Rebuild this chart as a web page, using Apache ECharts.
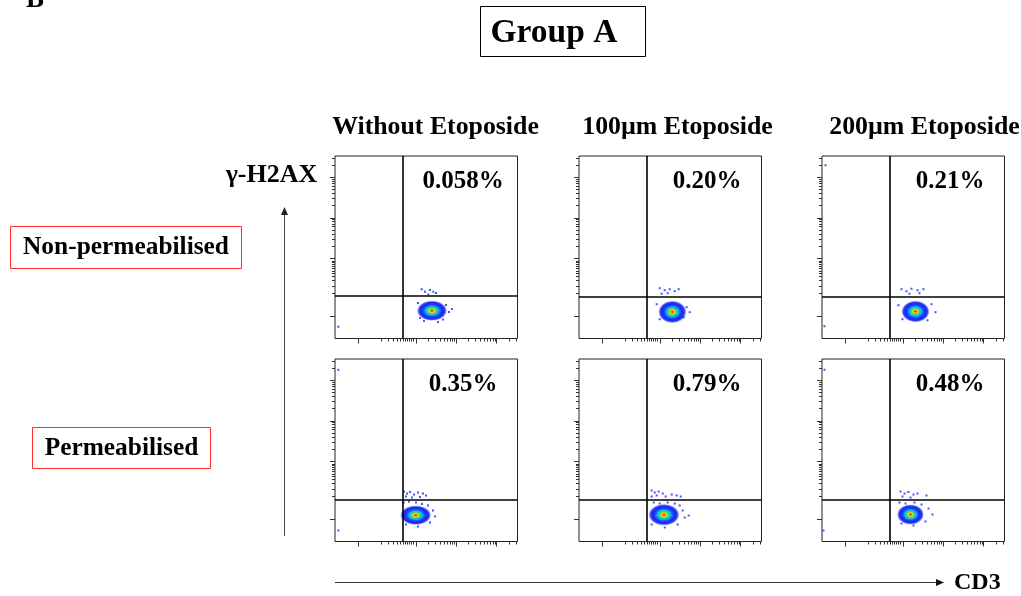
<!DOCTYPE html>
<html><head><meta charset="utf-8">
<script src="https://cdn.jsdelivr.net/npm/echarts@6/dist/echarts.min.js"></script>
<style>html,body{margin:0;padding:0;background:#fff}#c{width:1021px;height:596px}</style>
</head><body><div id="c"></div>
<script>
// ---------------- DATA ----------------
const columnTitles = ['Without Etoposide', '100\u00b5m Etoposide', '200\u00b5m Etoposide'];
const rowTitles = ['Non-permeabilised', 'Permeabilised'];
const percentLabels = ['0.058%', '0.20%', '0.21%', '0.35%', '0.79%', '0.48%'];
// axis display units: 0 at zero, one unit per decade (10^3 at 1.43)
const axisRange = [-0.56, 3.95];
const majorTicks = [0, 1.43, 2.43, 3.43];
const lowMinorTicks = [0.57, 0.74, 0.88, 0.98, 1.05, 1.11, 1.17, 1.22, 1.27, 1.32, 1.36];
const decadeStarts = [1.43, 2.43, 3.43];
// quadrant gates per panel
const gateX = [1.12, 1.12, 1.108, 1.12, 1.12, 1.108];
const gateY = [0.49, 0.478, 0.478, 0.47, 0.47, 0.47];
// main population (centre and spread, display units)
const blobX = [1.837, 1.748, 1.750, 1.434, 1.540, 1.627];
const blobY = [0.127, 0.097, 0.107, 0.090, 0.100, 0.107];
const blobSpreadX = [0.37, 0.345, 0.345, 0.38, 0.38, 0.33];
const blobSpreadY = [0.25, 0.275, 0.265, 0.24, 0.265, 0.25];
// sparse events per panel
const sparse1 = [[1.582,0.656],[1.664,0.596],[1.787,0.638],[1.869,0.596],[1.745,0.527],[1.936,0.564],[1.491,0.317],[2.183,0.268],[2.257,0.095],[1.540,-0.053],[2.109,-0.091],[1.985,-0.152],[1.639,-0.128],[2.331,0.169],[-0.478,-0.268]];
const sparse2 = [[1.434,0.683],[1.558,0.633],[1.681,0.658],[1.805,0.609],[1.632,0.559],[1.904,0.658],[1.483,0.547],[1.360,0.288],[2.101,0.213],[2.027,-0.034],[1.434,-0.083],[2.175,0.090]];
const sparse3 = [[1.404,0.658],[1.528,0.609],[1.652,0.671],[1.800,0.633],[1.948,0.658],[1.602,0.547],[1.849,0.559],[1.330,0.263],[2.146,0.288],[2.245,0.090],[1.429,-0.083],[2.047,-0.108],[-0.474,3.722],[-0.498,-0.256]];
const sparse4 = [[1.145,0.675],[1.219,0.626],[1.293,0.663],[1.392,0.601],[1.491,0.651],[1.614,0.626],[1.194,0.552],[1.343,0.527],[1.540,0.540],[1.689,0.577],[1.133,0.404],[1.269,0.428],[1.441,0.404],[1.590,0.367],[1.738,0.330],[1.862,0.206],[1.911,0.058],[1.787,-0.091],[1.194,-0.140],[1.491,-0.189],[-0.478,3.683],[-0.478,-0.288]];
const sparse5 = [[1.236,0.700],[1.311,0.651],[1.409,0.675],[1.508,0.626],[1.360,0.577],[1.236,0.552],[1.582,0.552],[1.731,0.601],[1.854,0.577],[1.953,0.552],[1.286,0.404],[1.434,0.379],[1.632,0.404],[1.805,0.379],[1.928,0.330],[2.002,0.206],[2.052,0.033],[1.879,-0.140],[1.236,-0.140],[1.558,-0.214],[2.151,0.082]];
const sparse6 = [[1.380,0.675],[1.479,0.626],[1.577,0.663],[1.701,0.601],[1.800,0.626],[1.429,0.552],[1.627,0.527],[2.022,0.577],[1.355,0.404],[1.503,0.379],[1.726,0.404],[1.899,0.354],[2.072,0.255],[2.170,0.107],[1.997,-0.066],[1.404,-0.115],[1.701,-0.165],[-0.498,3.683],[-0.523,-0.288]];
const sparseAll = [sparse1, sparse2, sparse3, sparse4, sparse5, sparse6];

// ---------------- LAYOUT / STYLE ----------------
const SERIF = "'Times New Roman','Liberation Serif',serif";
const gridLefts = [335, 579, 822];
const gridTops = [156, 359];
const GW = 182.5, GH = 182.5;

const minorTicks = lowMinorTicks.slice();
decadeStarts.forEach(d => { for (let k = 2; k <= 9; k++) { const v = d + Math.log10(k); if (v < axisRange[1]) minorTicks.push(v); } });
const tickList = majorTicks.map(v => [v, 1]).concat(minorTicks.map(v => [v, 0]));

const blobGradient = new echarts.graphic.RadialGradient(0.5, 0.5, 0.5, [
  { offset: 0, color: '#e8101a' },
  { offset: 0.08, color: '#ff5a10' },
  { offset: 0.17, color: '#f0e020' },
  { offset: 0.28, color: '#40dc50' },
  { offset: 0.4, color: '#10c8ec' },
  { offset: 0.52, color: '#1a6cff' },
  { offset: 0.7, color: '#1428f0' },
  { offset: 0.86, color: 'rgba(24,36,240,0.9)' },
  { offset: 1, color: 'rgba(40,60,255,0.12)' }
]);

const grids = [], xAxes = [], yAxes = [], series = [], graphics = [];
for (let p = 0; p < 6; p++) {
  const r = Math.floor(p / 3), c = p % 3;
  grids.push({ left: gridLefts[c], top: gridTops[r], width: GW, height: GH, show: true, borderColor: '#222', borderWidth: 1, backgroundColor: 'transparent' });
  const ax = { gridIndex: p, type: 'value', min: axisRange[0], max: axisRange[1], axisLine: { show: false }, axisTick: { show: false }, axisLabel: { show: false }, splitLine: { show: false } };
  xAxes.push(Object.assign({}, ax));
  yAxes.push(Object.assign({}, ax));
  // main population
  series.push({
    type: 'custom', xAxisIndex: p, yAxisIndex: p, silent: true, z: 3,
    data: [[blobX[p], blobY[p], blobSpreadX[p], blobSpreadY[p]]],
    renderItem: (params, api) => {
      const ctr = api.coord([api.value(0), api.value(1)]);
      const sz = api.size([api.value(2), api.value(3)]);
      return { type: 'circle', x: ctr[0], y: ctr[1], scaleX: sz[0], scaleY: sz[1], shape: { cx: 0, cy: 0, r: 1 }, style: { fill: blobGradient } };
    }
  });
  // sparse events + gates
  series.push({
    type: 'scatter', xAxisIndex: p, yAxisIndex: p, silent: true, z: 4,
    symbol: 'rect', symbolSize: 2, itemStyle: { color: '#1a2af5' },
    data: sparseAll[p],
    markLine: { silent: true, symbol: 'none', label: { show: false }, lineStyle: { color: '#000', width: 1.6, type: 'solid' }, data: [{ xAxis: gateX[p] }, { yAxis: gateY[p] }] }
  });
  // x ticks
  series.push({
    type: 'custom', xAxisIndex: p, yAxisIndex: p, silent: true, clip: false, z: 5,
    data: tickList.map(t => [t[0], axisRange[0], t[1]]),
    renderItem: (params, api) => {
      const pt = api.coord([api.value(0), api.value(1)]);
      const len = api.value(2) ? 5 : 3;
      const x = Math.round(pt[0]) + 0.5;
      return { type: 'line', shape: { x1: x, y1: pt[1], x2: x, y2: pt[1] + len }, style: { stroke: '#333', lineWidth: 1 } };
    }
  });
  // y ticks
  series.push({
    type: 'custom', xAxisIndex: p, yAxisIndex: p, silent: true, clip: false, z: 5,
    data: tickList.map(t => [axisRange[0], t[0], t[1]]),
    renderItem: (params, api) => {
      const pt = api.coord([api.value(0), api.value(1)]);
      const len = api.value(2) ? 5 : 3;
      const y = Math.round(pt[1]) + 0.5;
      return { type: 'line', shape: { x1: pt[0] - len, y1: y, x2: pt[0], y2: y }, style: { stroke: '#333', lineWidth: 1 } };
    }
  });
  // percent label
  graphics.push({ type: 'text', x: gridLefts[c] + 128, y: gridTops[r] + 26, z: 10,
    style: { text: percentLabels[p], font: 'bold 25px ' + SERIF, fill: '#000', textAlign: 'center', textVerticalAlign: 'middle' } });
}

// column headers
const headerCenters = [435.5, 677.5, 924.5];
columnTitles.forEach((t, i) => graphics.push({ type: 'text', x: headerCenters[i], y: 127,
  style: { text: t, font: 'bold 25.8px ' + SERIF, fill: '#000', textAlign: 'center', textVerticalAlign: 'middle' } }));
// title box
graphics.push({ type: 'rect', shape: { x: 480.5, y: 6.5, width: 165, height: 50 }, style: { fill: 'none', stroke: '#000', lineWidth: 1 } });
graphics.push({ type: 'text', x: 554, y: 33, style: { text: 'Group A', font: 'bold 33.5px ' + SERIF, fill: '#000', textAlign: 'center', textVerticalAlign: 'middle' } });
// panel letter (clipped at top)
graphics.push({ type: 'text', x: 26, y: 14, style: { text: 'B', font: 'bold 27px ' + SERIF, fill: '#000', textAlign: 'left', textVerticalAlign: 'bottom' } });
// row labels with red boxes
const rowBoxes = [[10.5, 226.5, 231, 42], [32.5, 427.5, 178, 41]];
rowTitles.forEach((t, i) => {
  const b = rowBoxes[i];
  graphics.push({ type: 'rect', shape: { x: b[0], y: b[1], width: b[2], height: b[3] }, style: { fill: 'none', stroke: '#ff2a2a', lineWidth: 1 } });
  graphics.push({ type: 'text', x: b[0] + b[2] / 2, y: b[1] + b[3] / 2, style: { text: t, font: 'bold 25.4px ' + SERIF, fill: '#000', textAlign: 'center', textVerticalAlign: 'middle' } });
});
// y marker label and arrow
graphics.push({ type: 'text', x: 271.5, y: 175, style: { text: '\u03b3-H2AX', font: 'bold 26px ' + SERIF, fill: '#000', textAlign: 'center', textVerticalAlign: 'middle' } });
graphics.push({ type: 'line', shape: { x1: 284.5, y1: 536, x2: 284.5, y2: 214 }, style: { stroke: '#444', lineWidth: 1 } });
graphics.push({ type: 'polygon', shape: { points: [[284.5, 207], [281, 215], [288, 215]] }, style: { fill: '#222' } });
// x marker arrow and label
graphics.push({ type: 'line', shape: { x1: 335, y1: 582.5, x2: 937, y2: 582.5 }, style: { stroke: '#333', lineWidth: 1 } });
graphics.push({ type: 'polygon', shape: { points: [[944, 582.5], [936, 579], [936, 586]] }, style: { fill: '#111' } });
graphics.push({ type: 'text', x: 954, y: 583, style: { text: 'CD3', font: 'bold 24px ' + SERIF, fill: '#000', textAlign: 'left', textVerticalAlign: 'middle' } });

const chart = echarts.init(document.getElementById('c'), null, { renderer: 'canvas' });
chart.setOption({
  animation: false,
  backgroundColor: '#fff',
  grid: grids, xAxis: xAxes, yAxis: yAxes, series: series,
  graphic: { elements: graphics }
});
</script></body></html>
